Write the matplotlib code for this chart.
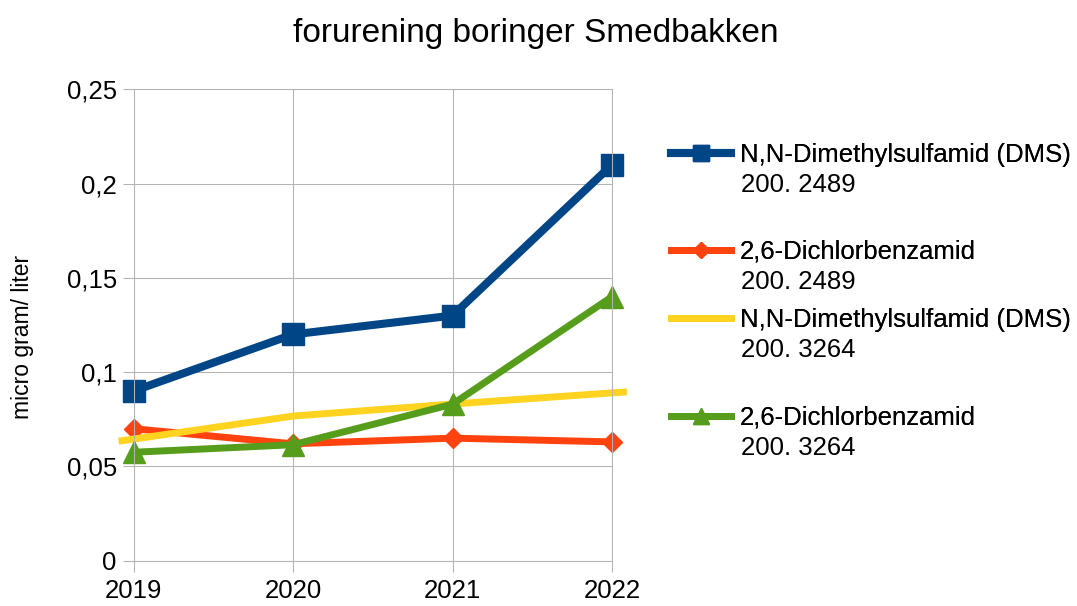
import matplotlib.pyplot as plt
import numpy as np

plt.rcParams['font.family'] = ['Liberation Sans', 'DejaVu Sans']

years = [2019, 2020, 2021, 2022]
dms_2489 = [0.09, 0.12, 0.13, 0.21]
dichlor_2489 = [0.07, 0.062, 0.065, 0.063]
dms_3264 = [0.0645, 0.0767, 0.0831, 0.089]
dichlor_3264 = [0.0575, 0.0615, 0.083, 0.14]

names = ["N,N-Dimethylsulfamid (DMS)", "2,6-Dichlorbenzamid",
         "N,N-Dimethylsulfamid (DMS)", "2,6-Dichlorbenzamid"]
wells = ["200. 2489", "200. 2489", "200. 3264", "200. 3264"]
yticks = [0, 0.05, 0.1, 0.15, 0.2, 0.25]
ytick_labels = ["0", "0,05", "0,1", "0,15", "0,2", "0,25"]

W, H = 1077, 606


def main():
    fig = plt.figure(figsize=(W / 100, H / 100), dpi=100)
    ax = fig.add_axes([133.5 / W, 1 - 560.7 / H, 478.5 / W, 471.4 / H])

    l1, = ax.plot(years, dms_2489, color='#004586', lw=5.8, marker='s',
                  ms=16)
    l2, = ax.plot(years, dichlor_2489, color='#ff420e', lw=5, marker='D',
                  ms=10.4)
    # yellow series runs a little past the first and last year
    x = np.array(years, dtype=float)
    y = np.array(dms_3264)
    ext = 0.072
    xe = np.concatenate([[x[0] - ext], x, [x[-1] + ext]])
    ye = np.concatenate([[y[0] - ext * (y[1] - y[0])], y,
                         [y[-1] + ext * (y[-1] - y[-2])]])
    l3, = ax.plot(xe, ye, color='#ffd320', lw=5)
    l4, = ax.plot(years, dichlor_3264, color='#579d1c', lw=5, marker='^',
                  ms=15.5)
    for line in ax.get_lines():
        line.set_clip_on(False)

    ax.set_xlim(2019, 2022)
    ax.set_ylim(0, 0.25)
    ax.set_xticks(years)
    ax.set_xticklabels([str(v) for v in years])
    ax.set_yticks(yticks)
    ax.set_yticklabels(ytick_labels)
    ax.tick_params(axis='both', labelsize=18.5, color='#b3b3b3', length=8,
                   width=0.75)
    ax.tick_params(axis='x', pad=5)
    ax.tick_params(axis='y', pad=4)
    ax.grid(True, color='#b3b3b3', lw=0.75)
    ax.set_axisbelow(True)
    for s in ax.spines.values():
        s.set_color('#b3b3b3')
        s.set_linewidth(0.75)

    fig.text(23 / W, 1 - 337 / H, "micro gram/ liter", fontsize=16.5,
             rotation=90, ha='center', va='center')
    fig.text(536 / W, 1 - 42 / H, "forurening boringer Smedbakken",
             fontsize=24, ha='center', va='baseline')

    # one legend per entry; the well number goes on a second line below
    centers = [155, 252, 320, 418]
    for h, name, well, yc in zip([l1, l2, l3, l4], names, wells, centers):
        leg = fig.legend([h], [name], loc='center left',
                         bbox_to_anchor=(671 / W, 1 - yc / H), frameon=False,
                         fontsize=18.5, handlelength=2.35, handletextpad=0.32,
                         borderpad=0, borderaxespad=0, markerscale=0.75)
        fig.add_artist(leg)
        fig.text(741 / W, 1 - (yc + 30) / H, well, fontsize=18.5,
                 ha='left', va='center')

    fig.savefig("out.png")


if __name__ == "__main__":
    main()
